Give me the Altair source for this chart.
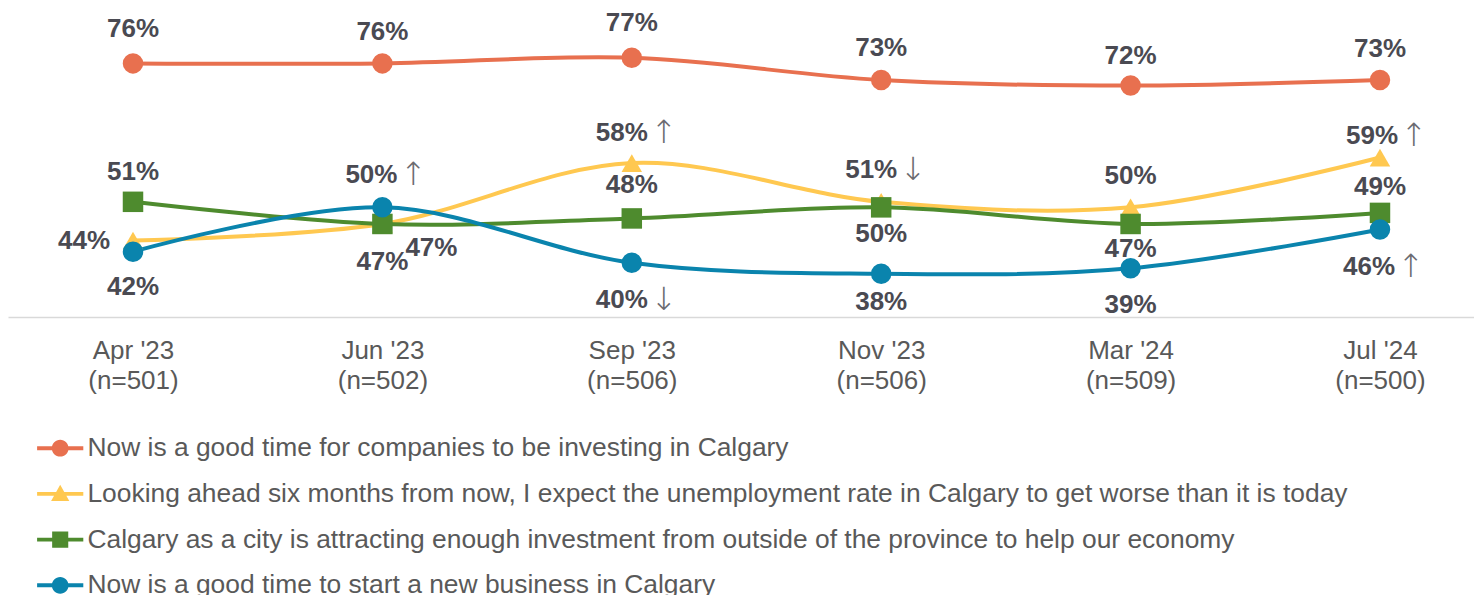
import json
import altair as alt
import pandas as pd

# ---------------- data ----------------
periods = ["Apr '23", "Jun '23", "Sep '23", "Nov '23", "Mar '24", "Jul '24"]
sample_sizes = [501, 502, 506, 506, 509, 500]

series_names = [
    "Now is a good time for companies to be investing in Calgary",
    "Looking ahead six months from now, I expect the unemployment rate in Calgary to get worse than it is today",
    "Calgary as a city is attracting enough investment from outside of the province to help our economy",
    "Now is a good time to start a new business in Calgary",
]
invest_now = [76, 76, 77, 73, 72, 73]
unemployment_worse = [44, 47, 58, 51, 50, 59]
attracting_investment = [51, 47, 48, 50, 47, 49]
start_business = [42, 50, 40, 38, 39, 46]

# significance markers
invest_now_sig = ["", "", "", "", "", ""]
unemployment_sig = ["", "", "↑", "↓", "", "↑"]
attracting_sig = ["", "", "", "", "", ""]
business_sig = ["", "↑", "↓", "", "", "↑"]

# ---------------- styling / layout ----------------
colors = ["#E8704F", "#FFC850", "#4E8B2E", "#0A84AD"]
shapes = ["circle", "triangle-up", "square", "circle"]
legend_line = "M-3.3,-0.28H3.3V0.28H-3.3Z "
legend_paths = [
    legend_line + "M1.2,0A1.2,1.2 0 1,1 -1.2,0A1.2,1.2 0 1,1 1.2,0Z",
    legend_line + "M0,-1.3L1.3,1H-1.3Z",
    legend_line + "M-1.15,-1.15H1.15V1.15H-1.15Z",
    legend_line + "M1.2,0A1.2,1.2 0 1,1 -1.2,0A1.2,1.2 0 1,1 1.2,0Z",
]
# label offsets in pixels (dx, dy)
label_dx = [
    [0, 0, 0, 0, 0, 0],
    [-49, 0, -10, -10, 0, -8],
    [0, 49, 0, 0, 0, 0],
    [0, -11, -10, 0, 0, -11],
]
label_dy = [
    [-34, -31, -35, -32, -30, -31],
    [0, 38, -30, -32, -31, -22],
    [-30, 24, -33, 27, 25, -26],
    [35, -32, 37, 28, 37, 37],
]
arrow_dx = 31

all_values = [invest_now, unemployment_worse, attracting_investment, start_business]
all_sig = [invest_now_sig, unemployment_sig, attracting_sig, business_sig]

rows = []
for s_i, name in enumerate(series_names):
    for p_i in range(len(periods)):
        v = all_values[s_i][p_i]
        rows.append(
            dict(
                series=name,
                idx=p_i,
                value=v,
                label=f"{v}%",
                arrow=all_sig[s_i][p_i],
                dx=label_dx[s_i][p_i],
                dy=label_dy[s_i][p_i],
                adx=label_dx[s_i][p_i] + arrow_dx + 11,
            )
        )
df = pd.DataFrame(rows)

axis_labels = [f"{p}|(n={n})" for p, n in zip(periods, sample_sizes)]
label_expr = "split(" + json.dumps(axis_labels) + "[datum.value], '|')"

FONT = "Liberation Sans, Arial, DejaVu Sans"

x_enc = alt.X(
    "idx:Q",
    scale=alt.Scale(domain=[-0.5012, 5.377], nice=False, zero=False),
    axis=alt.Axis(
        title=None,
        values=list(range(len(periods))),
        labelExpr=label_expr,
        ticks=False,
        grid=False,
        domainColor="#D9D9D9",
        domainWidth=1.5,
        labelFont=FONT,
        labelFontSize=26,
        labelColor="#595959",
        labelPadding=20,
        labelLineHeight=30,
        labelOverlap=False,
        labelFlush=False,
        labelBound=False,
    ),
)
y_enc = alt.Y(
    "value:Q",
    scale=alt.Scale(domain=[30.2, 86], nice=False, zero=False),
    axis=None,
)
color_scale = alt.Scale(domain=series_names, range=colors)

base = alt.Chart(df)

lines = base.mark_line(interpolate="catmull-rom", strokeWidth=4).encode(
    x=x_enc,
    y=y_enc,
    color=alt.Color("series:N", scale=color_scale, legend=None),
    order=alt.Order("idx:Q"),
)

points = base.mark_point(filled=True, size=420, opacity=1).encode(
    x=x_enc,
    y=y_enc,
    color=alt.Color("series:N", scale=color_scale, legend=None),
    shape=alt.Shape("series:N", scale=alt.Scale(domain=series_names, range=shapes), legend=None),
)

labels = base.mark_text(
    font=FONT,
    fontSize=26,
    fontWeight="bold",
    color="#4A4A52",
    dx={"expr": "datum.dx"},
    dy={"expr": "datum.dy"},
).encode(x=x_enc, y=y_enc, text="label:N")

arrows = base.transform_filter("datum.arrow != ''").mark_text(
    font="DejaVu Sans",
    fontSize=32,
    fontWeight=200,
    color="#6B6B70",
    dx={"expr": "datum.adx"},
    dy={"expr": "datum.dy"},
).encode(x=x_enc, y=y_enc, text="arrow:N")

legend_props = dict(
    title=None,
    orient="none",
    legendX=39,
    legendY=427,
    direction="vertical",
    labelFont=FONT,
    labelFontSize=26.4,
    labelColor="#595959",
    labelLimit=2000,
    labelOffset=14,
    symbolSize=196,
    symbolStrokeWidth=0,
    symbolOpacity=1,
    rowPadding=18.7,
    padding=0,
)

legend_layer = base.transform_filter("datum.idx == 0").mark_point(
    filled=True, opacity=0
).encode(
    x=x_enc,
    y=y_enc,
    color=alt.Color("series:N", scale=color_scale, legend=alt.Legend(**legend_props)),
    shape=alt.Shape(
        "series:N",
        scale=alt.Scale(domain=series_names, range=legend_paths),
        legend=alt.Legend(**legend_props),
    ),
)

chart = (
    alt.layer(lines, points, labels, arrows, legend_layer)
    .resolve_scale(color="independent", shape="independent")
    .properties(
        width=1466,
        height=309,
        padding={"left": 0, "top": 0, "right": 0, "bottom": 278},
        autosize=alt.AutoSizeParams(type="none"),
    )
    .configure_view(stroke=None)
)

chart.save("out.html", embed_options={"renderer": "svg", "actions": False})
